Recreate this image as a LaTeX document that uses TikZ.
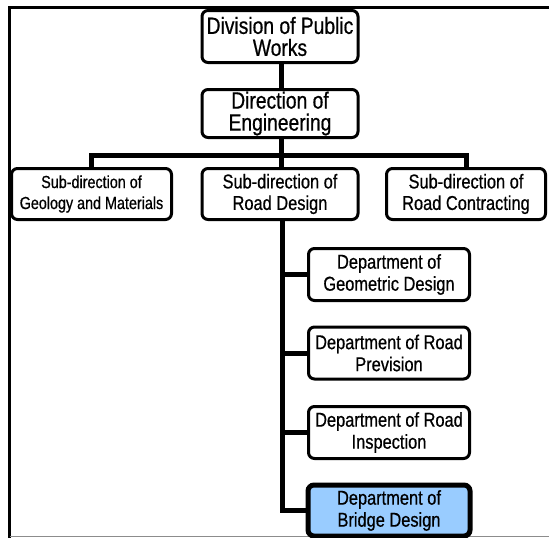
\documentclass[tikz,border=0pt]{standalone}
\usepackage{fontspec}
\setmainfont[FakeStretch=0.82,FakeBold=0.6]{Liberation Sans}
\begin{document}
\begin{tikzpicture}[x=1pt,y=-1pt,
  unit/.style={draw=black, line width=3pt, rounded corners=6pt, fill=white,
    align=center, inner sep=0pt, minimum height=50pt},
  topunit/.style={unit, minimum width=156pt, font=\fontsize{23.5}{22}\selectfont},
  subunit/.style={unit, minimum width=158pt, minimum height=51pt, font=\fontsize{20}{21.5}\selectfont},
  deptunit/.style={unit, minimum width=161pt, minimum height=52pt, font=\fontsize{20}{22}\selectfont},
  link/.style={line width=5pt}
]
\useasboundingbox (0,0) rectangle (549,538);

% outer frame (open on the right)
\draw[line width=3pt] (549,7.5) -- (9.5,7.5) -- (9.5,538);
\draw[black!45, line width=1.5pt] (9.5,536.5) -- (549,536.5);

% top of the hierarchy
\node[topunit, minimum height=52pt] (div) at (280,36.5) {Division of Public\\Works};
\node[topunit, minimum height=48pt] (dir) at (280,113.5) {Direction of\\Engineering};

% sub-directions
\node[subunit, minimum width=160pt, font=\fontsize{17.5}{21}\selectfont] (geol) at (91.5,194) {Sub-direction of\\Geology and Materials};
\node[subunit, minimum width=156pt] (road) at (280,194) {Sub-direction of\\Road Design};
\node[subunit, minimum width=159pt] (contr) at (466,194) {Sub-direction of\\Road Contracting};

% departments under road design
\node[deptunit] (geom) at (389,274.5) {Department of\\Geometric Design};
\node[deptunit] (prev) at (389,353) {Department of Road\\Prevision};
\node[deptunit] (insp) at (389,432.5) {Department of Road\\Inspection};
\node[deptunit, line width=5pt, fill={rgb,255:red,153;green,204;blue,255}, minimum width=162pt, minimum height=51pt] (bridge) at (389,510.5) {Department of\\Bridge Design};

% connectors
\coordinate (bar) at (281,155.5);
\coordinate (trunk) at (282,221);
\draw[link] (div.south -| bar) -- (dir.north -| bar);
\draw[link] (dir.south -| bar) -- (bar);
\draw[link] (geol.north) |- (bar) -| (contr.north);
\draw[link] (bar) -- (road.north -| bar);
\draw[link] (trunk) |- (bridge.west);
\draw[link] (trunk |- geom.west) -- (geom.west);
\draw[link] (trunk |- prev.west) -- (prev.west);
\draw[link] (trunk |- insp.west) -- (insp.west);
\end{tikzpicture}
\end{document}
